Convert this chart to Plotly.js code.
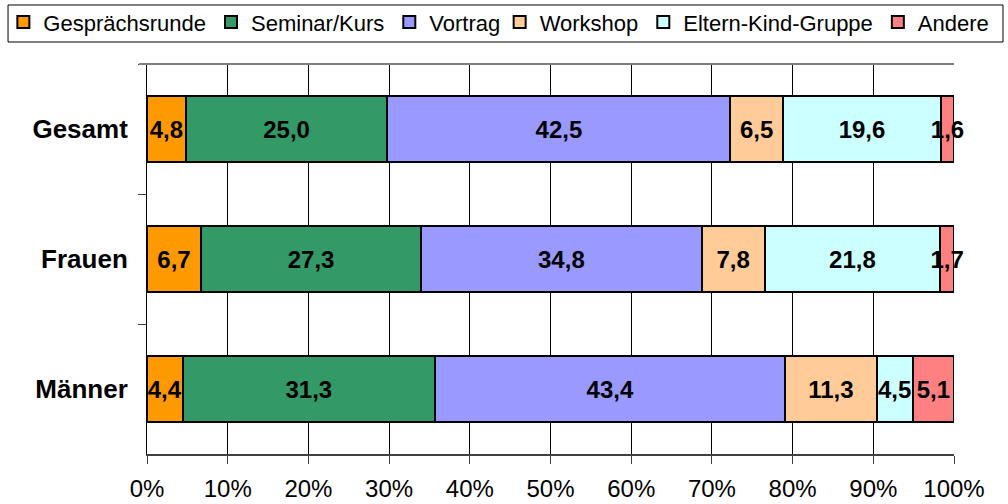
<!DOCTYPE html>
<html>
<head>
<meta charset="utf-8">
<script src="https://cdn.plot.ly/plotly-3.0.1.min.js"></script>
<style>body{margin:0;padding:0;background:#fff}#chart{width:1008px;height:504px}</style>
</head>
<body>
<div id="chart"></div>
<script>
const categories = ['Gesamt', 'Frauen', 'Männer'];
const seriesNames = ['Gesprächsrunde', 'Seminar/Kurs', 'Vortrag', 'Workshop', 'Eltern-Kind-Gruppe', 'Andere'];
const gespraechsrunde = [4.8, 6.7, 4.4];
const seminarKurs = [25.0, 27.3, 31.3];
const vortrag = [42.5, 34.8, 43.4];
const workshop = [6.5, 7.8, 11.3];
const elternKind = [19.6, 21.8, 4.5];
const andere = [1.6, 1.7, 5.1];
const tickValues = [0, 10, 20, 30, 40, 50, 60, 70, 80, 90, 100];
const tickLabels = ['0%', '10%', '20%', '30%', '40%', '50%', '60%', '70%', '80%', '90%', '100%'];
const colors = ['#FF9900', '#339966', '#9999FF', '#FFCC99', '#CCFFFF', '#FF8080'];

const series = [gespraechsrunde, seminarKurs, vortrag, workshop, elternKind, andere];
const fmt = v => v.toFixed(1).replace('.', ',');

const traces = series.map((vals, i) => ({
  type: 'bar',
  orientation: 'h',
  name: seriesNames[i],
  legend: i < 3 ? 'legend' : 'legend2',
  y: categories,
  x: vals,
  text: vals.map(fmt),
  textposition: 'inside',
  insidetextanchor: 'middle',
  textangle: 0,
  constraintext: 'none',
  cliponaxis: false,
  textfont: {family: 'Liberation Sans, Arial, sans-serif', size: 24, color: '#000', weight: 'bold'},
  marker: {color: colors[i], line: {color: '#000', width: 2}},
  hoverinfo: 'skip'
}));

const legendCommon = {
  orientation: 'h',
  traceorder: 'normal',
  xref: 'paper', yref: 'paper',
  xanchor: 'left',
  y: 1.161, yanchor: 'top',
  bgcolor: 'rgba(0,0,0,0)',
  borderwidth: 0,
  font: {size: 22, color: '#000', family: 'Liberation Sans, Arial, sans-serif'},
  itemwidth: 30,
  tracegroupgap: 0
};

const layout = {
  width: 1008,
  height: 504,
  paper_bgcolor: '#fff',
  plot_bgcolor: '#fff',
  barmode: 'stack',
  barnorm: 'percent',
  bargap: 0.49,
  uniformtext: {mode: 'show', minsize: 24},
  margin: {l: 147, r: 54, t: 64, b: 50, pad: 0, autoexpand: false},
  font: {family: 'Liberation Sans, Arial, sans-serif', color: '#000'},
  showlegend: true,
  legend: Object.assign({}, legendCommon, {x: -0.178}),
  legend2: Object.assign({}, legendCommon, {x: 0.437}),
  xaxis: {
    range: [0, 100],
    tickvals: tickValues,
    ticktext: tickLabels,
    tickmode: 'array',
    ticks: 'outside', ticklen: 8, tickcolor: '#404040', tickwidth: 1,
    ticklabelstandoff: 4,
    showgrid: true, gridcolor: '#000', gridwidth: 1,
    showline: true, linecolor: '#404040', linewidth: 2,
    zeroline: false,
    tickfont: {size: 24, color: '#000'},
    fixedrange: true
  },
  yaxis: {
    type: 'category',
    categoryorder: 'array',
    categoryarray: categories,
    autorange: 'reversed',
    tickson: 'boundaries',
    ticks: 'outside', ticklen: 8, tickcolor: '#404040', tickwidth: 1,
    ticklabelstandoff: 13,
    showgrid: false,
    showline: true, linecolor: '#000', linewidth: 1,
    zeroline: false,
    tickfont: {size: 26, color: '#000', weight: 'bold'},
    fixedrange: true
  },
  shapes: [
    {
      type: 'line', xref: 'paper', yref: 'paper',
      x0: -0.01, x1: 1, y0: 1, y1: 1,
      line: {color: '#808080', width: 2}
    },
    {
      type: 'rect', xref: 'paper', yref: 'paper',
      x0: -0.1722, x1: 1.0607, y0: 1.0564, y1: 1.1513,
      line: {color: '#000', width: 1}, fillcolor: 'rgba(0,0,0,0)'
    }
  ]
};

Plotly.newPlot('chart', traces, layout, {displayModeBar: false, staticPlot: true});
</script>
</body>
</html>
